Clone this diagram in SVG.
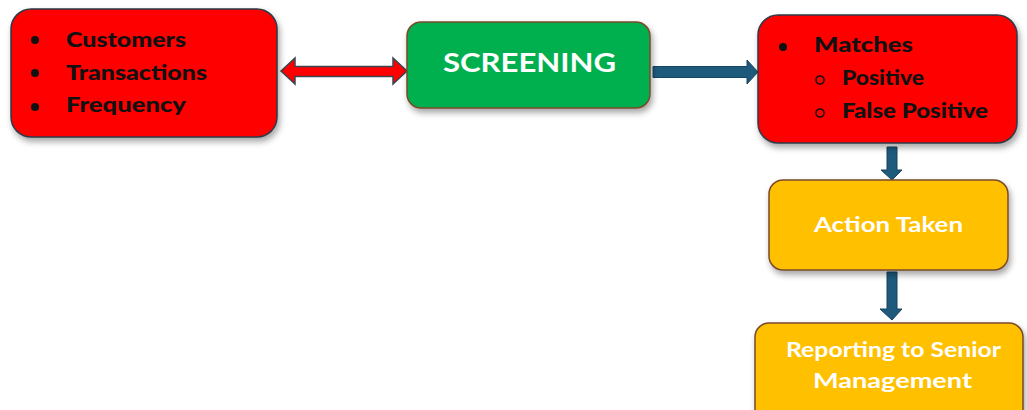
<svg xmlns="http://www.w3.org/2000/svg" width="1027" height="410" viewBox="0 0 1027 410">
  <defs>
    <filter id="shadow" x="-10%" y="-10%" width="125%" height="135%">
      <feDropShadow dx="2" dy="4" stdDeviation="3" flood-color="#000" flood-opacity="0.35"/>
    </filter>
    <style>
      .red { fill: #FF0000; stroke: #2E3A48; stroke-width: 1.5; filter: url(#shadow); }
      .green { fill: #00B050; stroke: #7A4A2A; stroke-width: 1.5; filter: url(#shadow); }
      .yellow { fill: #FFC000; stroke: #7A4A2A; stroke-width: 1.5; filter: url(#shadow); }
      .dark { font-family: "Lato", "DejaVu Sans", sans-serif; font-weight: 900; font-size: 21px; fill: #111; }
      .white { font-family: "Lato", "DejaVu Sans", sans-serif; font-weight: bold; font-size: 21px; fill: #fff; text-anchor: middle; }
      .bluearrow { fill: #1E5A7C; stroke: #17435E; stroke-width: 1; }
      .redarrow { fill: #FF0000; stroke: #3C4550; stroke-width: 1.5; }
    </style>
  </defs>

  <g id="connectors">
    <path class="redarrow" d="M281,71 L295,58 L295,66.5 L393,66.5 L393,58 L407,71 L393,84 L393,76.5 L295,76.5 L295,84 Z"/>
    <path class="bluearrow" d="M653,66.5 L747,66.5 L747,60 L758,72 L747,84 L747,77.5 L653,77.5 Z"/>
    <path class="bluearrow" d="M887,147 L897,147 L897,170 L902,170 L892,180 L881,170 L887,170 Z"/>
    <path class="bluearrow" d="M887,272 L897,272 L897,309 L902,309 L892,320 L880,309 L887,309 Z"/>
  </g>

  <g id="node-inputs">
    <rect class="red" x="11" y="9" width="266" height="128" rx="20" ry="20"/>
    <circle cx="35" cy="40" r="4" fill="#111"/>
    <circle cx="35" cy="73" r="4" fill="#111"/>
    <circle cx="35" cy="107" r="4" fill="#111"/>
    <text class="dark" x="66" y="47" textLength="120" lengthAdjust="spacingAndGlyphs">Customers</text>
    <text class="dark" x="66" y="80" textLength="141" lengthAdjust="spacingAndGlyphs">Transactions</text>
    <text class="dark" x="66" y="112" textLength="120" lengthAdjust="spacingAndGlyphs">Frequency</text>
  </g>

  <g id="node-screening">
    <rect class="green" x="407" y="22" width="243" height="86" rx="14" ry="14"/>
    <text class="white" x="529.5" y="72" textLength="173" lengthAdjust="spacingAndGlyphs" style="font-size:27px">SCREENING</text>
  </g>

  <g id="node-matches">
    <rect class="red" x="758" y="15" width="259" height="128" rx="20" ry="20"/>
    <circle cx="783" cy="47" r="4" fill="#111"/>
    <circle cx="820" cy="80" r="4" fill="none" stroke="#111" stroke-width="1.6"/>
    <circle cx="820" cy="113" r="4" fill="none" stroke="#111" stroke-width="1.6"/>
    <text class="dark" x="814" y="52" textLength="99" lengthAdjust="spacingAndGlyphs">Matches</text>
    <text class="dark" x="842" y="85" textLength="82" lengthAdjust="spacingAndGlyphs">Positive</text>
    <text class="dark" x="842" y="118" textLength="146" lengthAdjust="spacingAndGlyphs">False Positive</text>
  </g>

  <g id="node-action">
    <rect class="yellow" x="769" y="180" width="239" height="90" rx="14" ry="14"/>
    <text class="white" x="888.5" y="232" textLength="149" lengthAdjust="spacingAndGlyphs">Action Taken</text>
  </g>

  <g id="node-reporting">
    <rect class="yellow" x="755" y="323" width="268" height="100" rx="14" ry="14"/>
    <text class="white" x="893.5" y="357" textLength="215" lengthAdjust="spacingAndGlyphs">Reporting to Senior</text>
    <text class="white" x="892.5" y="388" textLength="159" lengthAdjust="spacingAndGlyphs">Management</text>
  </g>
</svg>
